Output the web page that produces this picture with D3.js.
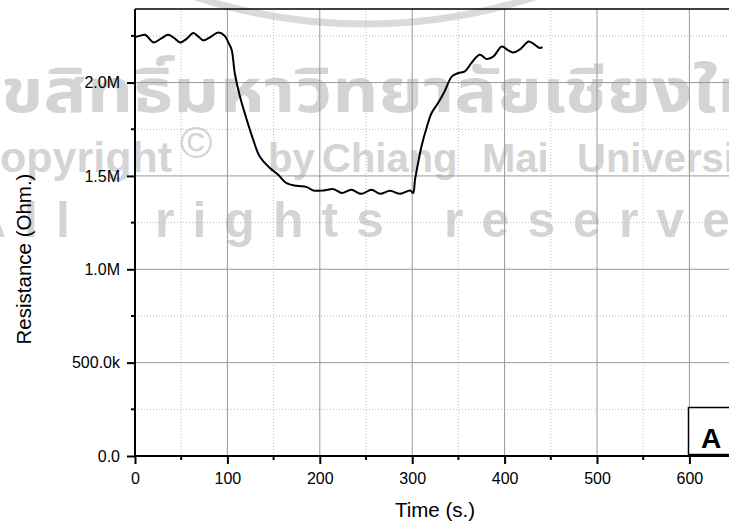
<!DOCTYPE html>
<html>
<head>
<meta charset="utf-8">
<script src="https://cdn.jsdelivr.net/npm/d3@7"></script>
<style>
  body { margin: 0; background: #fff; }
  svg { display: block; font-family: "Liberation Sans", Arial, sans-serif; }
</style>
</head>
<body>
<svg id="chart"></svg>
<script>
let w = 729
let h = 526

// time (s) and resistance (ohm)
let timeArr = [0, 5, 11, 20, 28, 36, 42, 49, 56, 63, 69, 74, 82, 90, 97, 101, 104.6, 108, 113.6, 121, 128, 135, 146, 155, 164, 175, 186, 193, 204, 215, 224, 234, 245, 256, 265, 276, 287, 298, 301, 303, 305, 310, 316, 321, 328, 335, 343, 350, 357, 364, 373, 381, 388, 397, 404, 409, 417, 426, 431, 438, 441]
let resArr = [2.244, 2.25, 2.256, 2.215, 2.235, 2.256, 2.24, 2.215, 2.235, 2.265, 2.245, 2.226, 2.245, 2.268, 2.251, 2.215, 2.176, 2.05, 1.925, 1.80, 1.693, 1.604, 1.542, 1.506, 1.461, 1.447, 1.440, 1.422, 1.422, 1.429, 1.408, 1.426, 1.404, 1.426, 1.404, 1.42, 1.404, 1.422, 1.408, 1.479, 1.533, 1.658, 1.765, 1.837, 1.89, 1.952, 2.033, 2.051, 2.06, 2.104, 2.149, 2.126, 2.14, 2.193, 2.172, 2.161, 2.179, 2.22, 2.208, 2.185, 2.19].map(v => v * 1e6)

let xMajor = [0, 100, 200, 300, 400, 500, 600]
let xMinor = [50, 150, 250, 350, 450, 550, 650]
let yMajor = [0, 500000, 1000000, 1500000, 2000000]
let yMinor = [250000, 750000, 1250000, 1750000, 2250000]
let yLabels = ["0.0", "500.0k", "1.0M", "1.5M", "2.0M"]
let legendText = "A"

let x = d3.scaleLinear().domain([0, 700]).range([135, 135 + 7 * 92.4])
let y = d3.scaleLinear().domain([0, 2394000]).range([456, 9])

let svg = d3.select('#chart').attr('width', w).attr('height', h)

// watermark (sits under the grid)
let wmColor = '#d4d4d4'
svg.append('path')
  .attr('d', () => { let p = d3.path(); p.arc(365, -521, 545, 0, Math.PI); return p.toString() })
  .attr('fill', 'none').attr('stroke', '#dadada').attr('stroke-width', 7)
let wm = svg.append('g').attr('fill', wmColor)
wm.append('text').attr('x', -42).attr('y', 112)
  .attr('textLength', 850).attr('lengthAdjust', 'spacingAndGlyphs')
  .attr('font-size', 60).attr('font-weight', 'bold')
  .attr('font-family', '"Noto Sans Thai", "Noto Sans", "DejaVu Sans", sans-serif')
  .text('ลิขสิทธิ์มหาวิทยาลัยเชียงใหม่')
let cr = wm.append('text').attr('y', 172).attr('font-size', 40).attr('font-weight', 'bold')
cr.append('tspan').attr('x', -31).attr('font-size', 43).text('Copyright')
cr.append('tspan').attr('x', 180).attr('dy', -14).attr('font-weight', 'normal').attr('font-size', 44).text('©')
cr.append('tspan').attr('x', 268).attr('dy', 14).text('by')
cr.append('tspan').attr('x', 322).text('Chiang')
cr.append('tspan').attr('x', 482).text('Mai')
cr.append('tspan').attr('x', 577).text('University')
let rr = wm.append('text').attr('y', 237).attr('font-size', 50).attr('font-weight', 'bold').attr('letter-spacing', 18)
rr.append('tspan').attr('x', -30).text('All')
rr.append('tspan').attr('x', 155).text('rights')
rr.append('tspan').attr('x', 444).text('reserved')

// grid
let grid = svg.append('g')
grid.selectAll('.gxm').data(xMinor).join('line')
  .attr('x1', d => x(d)).attr('x2', d => x(d)).attr('y1', y(0)).attr('y2', 9)
  .attr('stroke', '#bbb').attr('stroke-dasharray', '1,2')
grid.selectAll('.gym').data(yMinor).join('line')
  .attr('y1', d => y(d)).attr('y2', d => y(d)).attr('x1', 135).attr('x2', w)
  .attr('stroke', '#bbb').attr('stroke-dasharray', '1,2')
grid.selectAll('.gx').data(xMajor.slice(1)).join('line')
  .attr('x1', d => x(d)).attr('x2', d => x(d)).attr('y1', y(0)).attr('y2', 9)
  .attr('stroke', '#999')
grid.selectAll('.gy').data(yMajor.slice(1)).join('line')
  .attr('y1', d => y(d)).attr('y2', d => y(d)).attr('x1', 135).attr('x2', w)
  .attr('stroke', '#999')

// curve
let line = d3.line()
  .x((d, i) => x(timeArr[i]))
  .y(d => y(d))
  .curve(d3.curveCatmullRom.alpha(0.5))
svg.append('path')
  .attr('d', line(resArr))
  .attr('fill', 'none').attr('stroke', '#000').attr('stroke-width', 2)

// legend box
let lg = svg.append('g')
lg.append('rect').attr('x', 688.5).attr('y', 407.5).attr('width', 60).attr('height', 47)
  .attr('fill', '#fff').attr('stroke', '#000').attr('stroke-width', 1.5)
lg.append('text').attr('x', 711).attr('y', 448).attr('text-anchor', 'middle')
  .attr('font-size', 28).attr('font-weight', 'bold').text(legendText)

// top border
svg.append('line').attr('x1', 135).attr('x2', w).attr('y1', 9).attr('y2', 9)
  .attr('stroke', '#000').attr('stroke-width', 1.5)

// axes
let xAxis = d3.axisBottom(x).tickValues(xMajor).tickSize(8).tickSizeOuter(0).tickFormat(d3.format('d'))
let gx = svg.append('g').attr('transform', 'translate(0,' + y(0) + ')').call(xAxis)
gx.select('.domain').attr('d', 'M135,0H' + w).attr('stroke-width', 2)
gx.selectAll('.tick line').attr('stroke-width', 2)
gx.selectAll('.tick text').attr('font-size', 16).attr('font-family', '"Liberation Sans", Arial, sans-serif').attr('dy', '1.05em').attr('fill', '#000')
gx.selectAll('.mt').data(xMinor).join('line')
  .attr('x1', d => x(d)).attr('x2', d => x(d)).attr('y1', 0).attr('y2', 4)
  .attr('stroke', '#000').attr('stroke-width', 2)

let yAxis = d3.axisLeft(y).tickValues(yMajor).tickSize(8).tickSizeOuter(0).tickFormat((d, i) => yLabels[i])
let gy = svg.append('g').attr('transform', 'translate(135,0)').call(yAxis)
gy.select('.domain').attr('d', 'M0,' + y(0) + 'V9').attr('stroke-width', 2)
gy.selectAll('.tick line').attr('stroke-width', 2)
gy.selectAll('.tick text').attr('font-size', 16).attr('font-family', '"Liberation Sans", Arial, sans-serif').attr('x', -15).attr('fill', '#000')
gy.selectAll('.mt').data(yMinor).join('line')
  .attr('y1', d => y(d)).attr('y2', d => y(d)).attr('x1', 0).attr('x2', -4)
  .attr('stroke', '#000').attr('stroke-width', 2)

// axis titles
svg.append('text').attr('x', 435).attr('y', 517).attr('text-anchor', 'middle')
  .attr('font-size', 20.5).text('Time (s.)')
svg.append('text').attr('transform', 'translate(31,259) rotate(-90)').attr('text-anchor', 'middle')
  .attr('font-size', 20.5).text('Resistance (Ohm.)')
</script>
</body>
</html>
